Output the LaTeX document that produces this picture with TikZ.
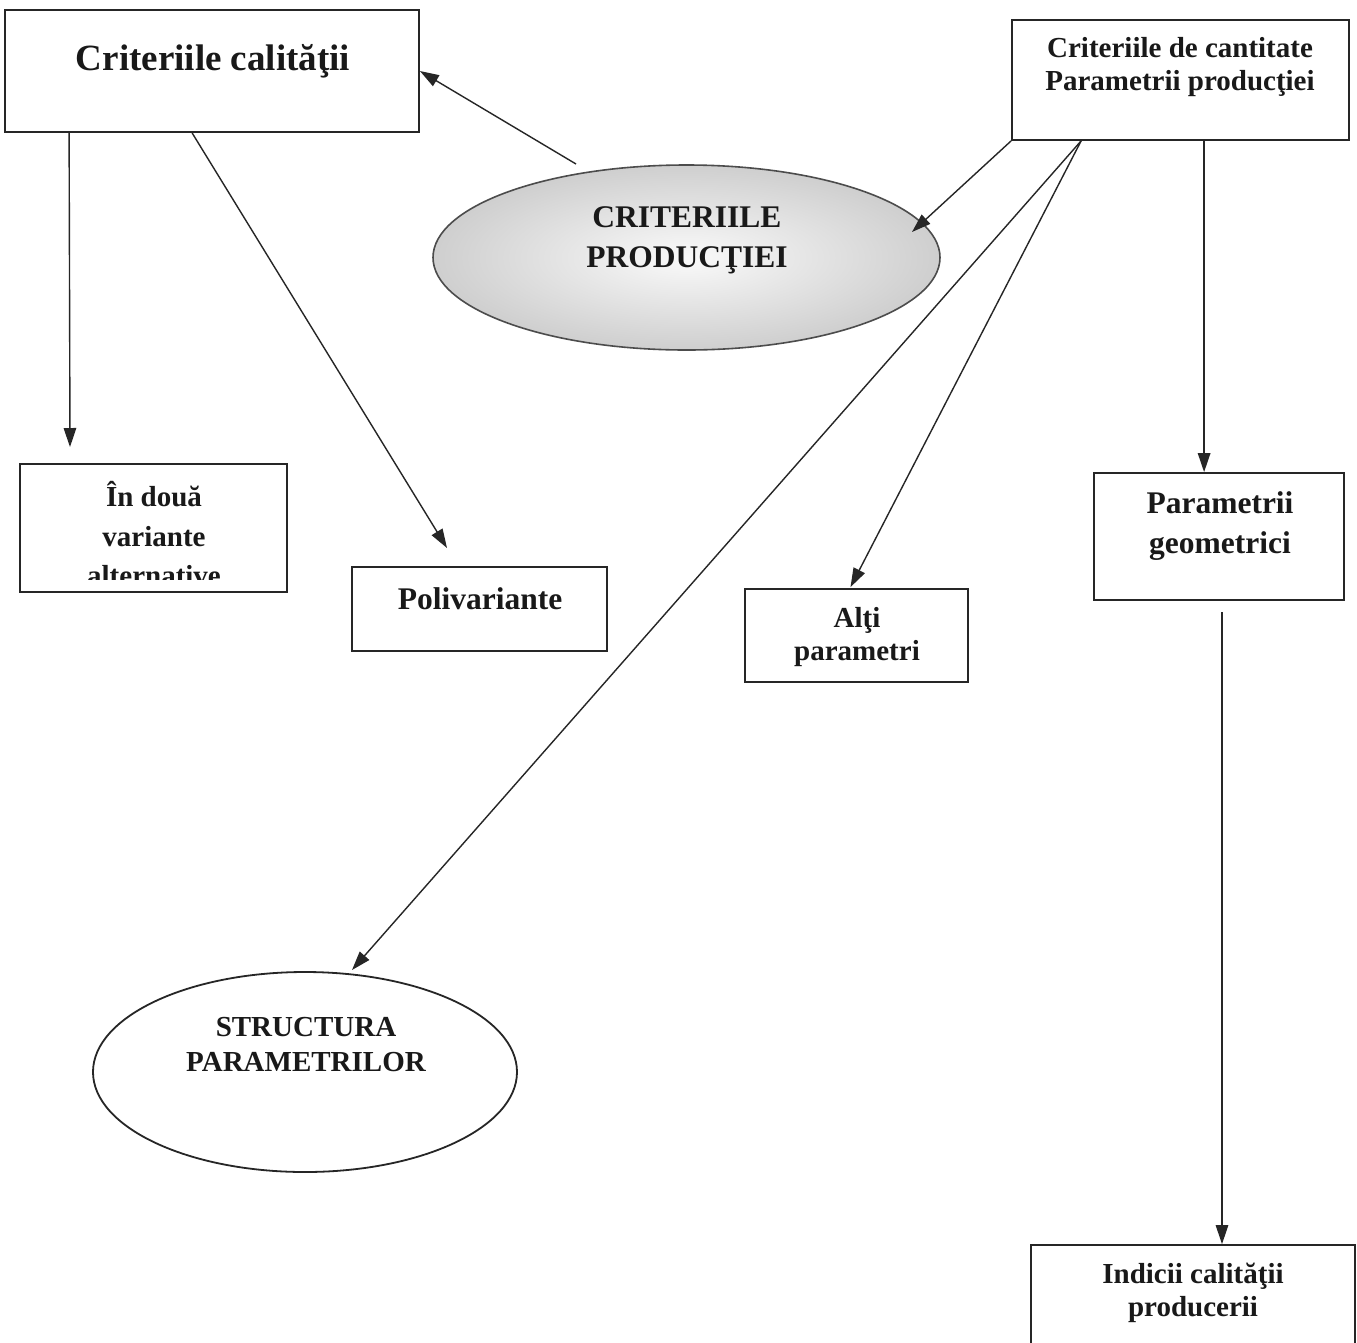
\documentclass[tikz,border=0pt]{standalone}
\usepackage{fontspec}
\setmainfont{Liberation Serif}
\usetikzlibrary{shapes.geometric,arrows.meta,calc}
\begin{document}
\begin{tikzpicture}[x=1pt,y=1pt,
  box/.style={draw=black!85,line width=1.8pt,rectangle,inner sep=0pt},
  lbl/.style={align=center,inner sep=0pt,text=black!90,font=\bfseries},
  big/.style={font=\bfseries\fontsize{37}{44}\selectfont},
  med/.style={font=\bfseries\fontsize{31.5}{40}\selectfont},
  sml/.style={font=\bfseries\fontsize{29}{33.5}\selectfont},
  conn/.style={draw=black!85,line width=1.4pt,-{Triangle[length=19pt,width=12.5pt]}},
  plain/.style={draw=black!85,line width=1.4pt}
]
\useasboundingbox (0,0) rectangle (1357,-1342);
\fill[white] (0,0) rectangle (1357,-1342);
\begin{scope}
\clip (0,0) rectangle (1357,-1342);
% boxes
\node[box,minimum width=414pt,minimum height=122pt] (box1) at (212,-71) {};
\node[box,minimum width=337pt,minimum height=120pt] (box2) at (1180.5,-80) {};
\node[box,minimum width=267pt,minimum height=128pt] (boxA) at (153.5,-528) {};
\node[box,minimum width=255pt,minimum height=84pt] (boxP) at (479.5,-609) {};
\node[box,minimum width=223pt,minimum height=93pt] (boxL) at (856.5,-635.5) {};
\node[box,minimum width=250pt,minimum height=127pt] (boxG) at (1219,-536.5) {};
\node[box,minimum width=324pt,minimum height=125pt] (boxI) at (1193,-1307.5) {};
% ellipses
\node[ellipse,draw=black!70,line width=1.6pt,inner color=gray!4,outer color=gray!38,
      minimum width=507pt,minimum height=185pt] (ell1) at (686.5,-257.5) {};
\node[ellipse,draw=black!85,line width=1.8pt,minimum width=424pt,minimum height=200pt] (ell2) at (305,-1072) {};
% texts
\node[lbl,big] (t1) at (213,-61) {Criteriile calităţii};
\node[lbl,sml] (t2) at (1180,-67) {Criteriile de cantitate\\Parametrii producţiei};
\node[lbl,med] (t3) at (687,-240) {CRITERIILE\\PRODUCŢIEI};
\begin{scope}
\clip (20,-464) rectangle (287,-579);
\node[lbl,font=\bfseries\fontsize{29}{39.5}\selectfont] (tA) at (154,-534) {În două\\variante\\alternative};
\end{scope}
\node[lbl,med] (tP) at (480,-599) {Polivariante};
\node[lbl,sml] (tL) at (857,-637) {Alţi\\parametri};
\node[lbl,med] (tG) at (1220,-526) {Parametrii\\geometrici};
\node[lbl,sml] (tI) at (1193,-1293) {Indicii calităţii\\producerii};
\node[lbl,sml,font=\bfseries\fontsize{29}{35}\selectfont] (tS) at (306,-1045) {STRUCTURA\\PARAMETRILOR};
% connector end points
\coordinate (a7) at ($(box1.south west)+(65,0)$);
\coordinate (e7) at (70,-447);
\coordinate (a8) at ($(box1.south west)+(188,0)$);
\coordinate (e8) at (447,-548);
\coordinate (e2) at (912,-232);
\coordinate (a3) at ($(box2.south west)+(70,0)$);
\coordinate (e3) at (352,-970);
\coordinate (e4) at ($(boxL.north)+(-6,1)$);
\coordinate (a5) at ($(box2.south west)+(193,0)$);
\coordinate (g1) at (1222,-612);
\coordinate (a1) at (576,-164);
% connectors
\draw[conn] (a1) -- (box1.east);
\draw[conn] (box2.south west) -- (e2);
\draw[conn] (a3) -- (e3);
\draw[conn] (a3) -- (e4);
\draw[conn] (a5) -- (a5 |- boxG.north);
\draw[conn] (g1) -- (g1 |- boxI.north);
\draw[conn] (a7) -- (e7);
\draw[conn] (a8) -- (e8);
\end{scope}
\end{tikzpicture}
\end{document}
